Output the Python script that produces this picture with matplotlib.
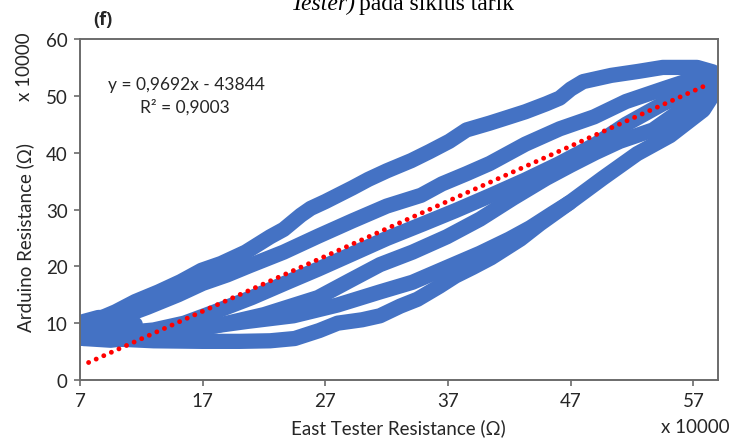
import matplotlib
matplotlib.use("Agg")
import matplotlib.pyplot as plt

# ---- data (units of x 10000 ohm) ----
b1_x = [7.5, 9.9, 11.5, 13.4, 15.2, 16.9, 18.5, 20.5, 22.5, 23.6, 25.0, 25.8, 27.0, 29.2, 30.5, 32.0, 34.0, 35.5, 37.1, 38.5, 40.4, 42.0, 43.3, 45.0, 46.1, 47.0, 48.0, 50.3, 52.5, 54.5, 57.3, 58.6]
b1_y = [9.8, 12.0, 13.8, 15.5, 17.3, 19.3, 20.5, 22.5, 25.2, 26.5, 29.0, 30.2, 31.4, 33.8, 35.3, 36.8, 38.6, 40.2, 42.0, 44.0, 45.2, 46.3, 47.2, 48.6, 49.6, 51.2, 52.5, 53.6, 54.3, 55.0, 55.0, 54.2]

b2_x = [7.5, 10.0, 12.5, 15.0, 17.0, 19.0, 20.8, 23.6, 26.4, 29.2, 32.0, 34.8, 36.5, 38.5, 40.4, 43.3, 46.1, 48.9, 51.5, 54.5, 57.3, 58.6]
b2_y = [9.3, 10.8, 12.8, 15.0, 17.0, 18.5, 20.1, 22.5, 25.3, 28.0, 30.6, 32.5, 34.5, 36.3, 38.1, 41.5, 44.2, 46.3, 49.0, 51.2, 53.2, 53.8]

b3_x = [7.5, 10.0, 13.0, 15.5, 18.0, 21.0, 24.0, 26.4, 29.0, 32.0, 35.0, 37.6, 40.5, 43.3, 46.0, 48.9, 51.5, 54.5, 57.3, 58.6]
b3_y = [8.5, 8.2, 8.8, 10.0, 12.0, 14.5, 17.3, 19.5, 22.0, 24.9, 27.5, 29.8, 32.5, 35.2, 38.0, 41.3, 45.0, 48.6, 51.2, 52.5]

b4_x = [10.0, 14.0, 18.0, 22.0, 26.4, 29.0, 31.45, 34.1, 36.9, 39.6, 42.3, 45.0, 47.0, 49.0, 51.0, 53.7, 56.0, 58.6]
b4_y = [8.0, 8.2, 9.5, 11.5, 14.5, 17.5, 20.3, 22.5, 25.2, 28.3, 32.0, 35.5, 37.8, 40.0, 42.0, 44.0, 47.5, 51.7]

b5_x = [12.0, 16.2, 20.6, 24.4, 28.0, 31.45, 34.1, 36.9, 39.6, 42.0, 43.7, 45.5, 46.9]
b5_y = [8.0, 9.0, 10.3, 11.3, 13.2, 15.5, 17.2, 19.8, 22.3, 24.8, 26.8, 29.3, 31.2]

b6_x = [7.5, 10.0, 13.0, 17.0, 20.0, 22.5, 24.5, 26.5, 28.0, 30.0, 31.45, 33.1, 34.5, 36.3, 37.6, 39.0, 40.5, 42.9, 44.5, 46.9, 49.6, 52.4, 55.1, 57.8, 58.9]
b6_y = [7.8, 7.2, 6.9, 6.8, 6.8, 6.9, 7.3, 8.7, 10.0, 10.6, 11.3, 13.0, 14.2, 16.5, 18.3, 19.8, 21.5, 24.8, 27.5, 31.2, 35.5, 39.8, 43.0, 47.5, 51.2]

cluster_x = [7.3, 7.3, 8.5, 10.0, 11.5, 11.5, 9.5, 7.3]
cluster_y = [7.3, 10.3, 11.0, 11.0, 9.8, 7.5, 7.0, 7.3]

bands = [(b1_x, b1_y), (b2_x, b2_y), (b3_x, b3_y), (b4_x, b4_y), (b5_x, b5_y), (b6_x, b6_y)]

slope = 0.9692
intercept = -4.3844
trend_x = [7.7, 58.2]

x_ticks = [7, 17, 27, 37, 47, 57]
y_ticks = [0, 10, 20, 30, 40, 50, 60]

BLUE = "#4472C4"
SPINE = "#6b6b6b"
TXT = "#262626"

plt.rcParams['font.family'] = ['Lato', 'DejaVu Sans']

fig = plt.figure(figsize=(7.37, 4.39), dpi=100)
ax = fig.add_axes([80/737, 1-381/439, (718-80)/737, (381-40)/439])

for bx, by in bands:
    ax.plot(bx, by, color=BLUE, lw=11, solid_capstyle='round', solid_joinstyle='round', zorder=2)
ax.fill(cluster_x, cluster_y, color=BLUE, zorder=2)
ax.plot(cluster_x, cluster_y, color=BLUE, lw=11, solid_capstyle='round', solid_joinstyle='round', zorder=2)

trend_y = [slope*v + intercept for v in trend_x]
ax.plot(trend_x, trend_y, color="#FF0000", lw=3.5, linestyle=(0, (0.01, 1.7)),
        dash_capstyle='round', zorder=3)

ax.set_xlim(7, 59)
ax.set_ylim(0, 60)
ax.set_xticks(x_ticks)
ax.set_yticks(y_ticks)
ax.tick_params(direction='out', length=4, width=1.2, color=SPINE, labelsize=13.5, labelcolor=TXT, pad=5)
for s in ax.spines.values():
    s.set_color(SPINE)
    s.set_linewidth(1.4)

fig.text(108/737, 1-85/439, "y = 0,9692x - 43844", fontsize=12.5, color=TXT, va='center')
fig.text(140/737, 1-107/439, "R² = 0,9003", fontsize=12.5, color=TXT, va='center')

fig.text(93/737, 1-20/439, "(f)", fontsize=13, fontweight='bold', family=['Open Sans', 'DejaVu Sans'], color=TXT, va='center')
fig.text(25/737, 1-238/439, "Arduino Resistance (Ω)", rotation=90, ha='center', va='center', fontsize=13.5, color=TXT)
fig.text(25/737, 1-67/439, "x 10000", rotation=90, ha='center', va='center', fontsize=13.5, color=TXT)
fig.text(398/737, 1-428/439, "East Tester Resistance (Ω)", ha='center', va='center', fontsize=13.5, color=TXT)
fig.text(695/737, 1-428/439, "x 10000", ha='center', va='center', fontsize=13.5, color=TXT)

# clipped caption at the top (the reference is cropped through this line)
t1 = fig.text(290/737, 1-10/439, "Tester)", fontsize=17, fontstyle='italic', family='Liberation Serif', va='baseline')
fig.canvas.draw()
bb = t1.get_window_extent(renderer=fig.canvas.get_renderer())
fig.text((bb.x1 + 4)/737, 1-10/439, "pada siklus tarik", fontsize=17, family='Liberation Serif', va='baseline')

fig.savefig("out.png", dpi=100)
